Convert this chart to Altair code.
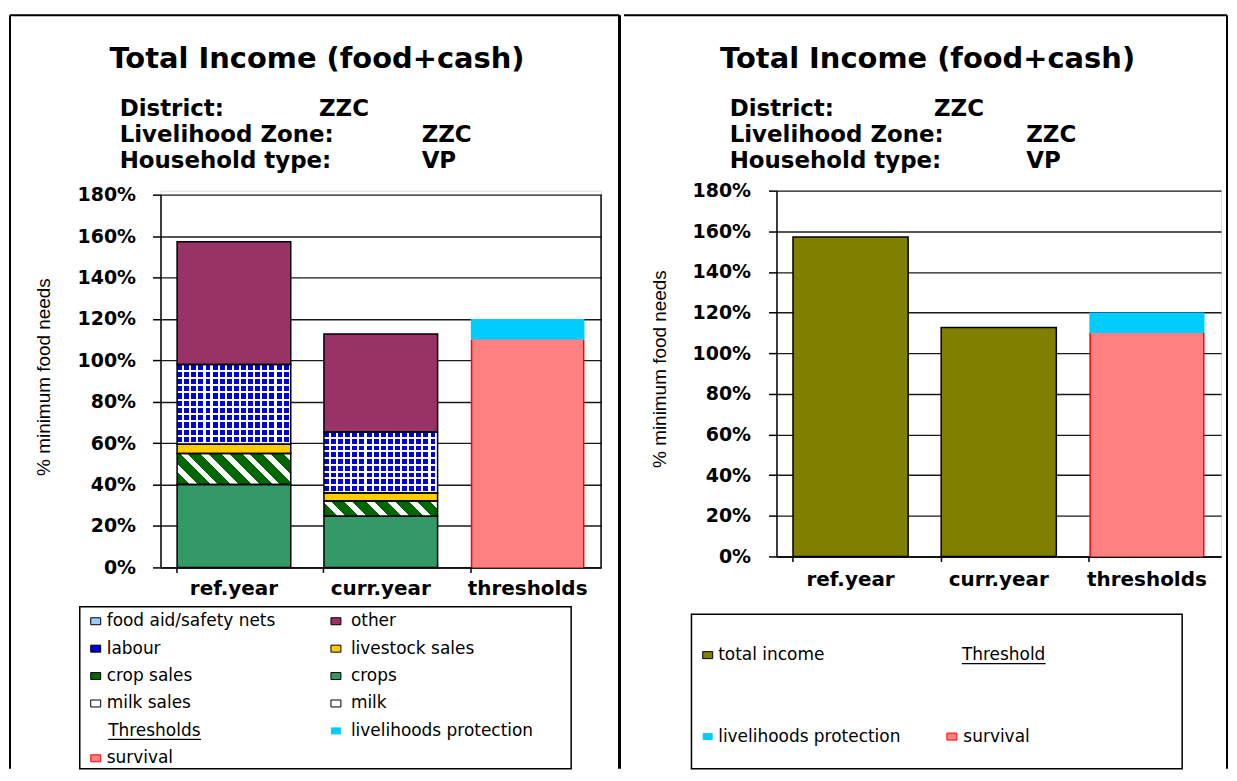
import altair as alt
import pandas as pd

# ---------------- data ----------------
categories = ["ref.year", "curr.year", "thresholds"]
income_sources = ["crops", "crop sales", "livestock sales", "labour", "other"]
ref_year_values = [40.0, 15.0, 4.5, 38.5, 59.2]
curr_year_values = [24.7, 7.4, 3.8, 29.5, 47.3]
threshold_names = ["survival", "livelihoods protection"]
threshold_values = [110.0, 10.0]
total_income_values = [157.2, 112.7]
y_tick_values = [0, 20, 40, 60, 80, 100, 120, 140, 160, 180]

legend_left_col1 = ["food aid/safety nets", "labour", "crop sales", "milk sales", "Thresholds", "survival"]
legend_left_col2 = ["other", "livestock sales", "crops", "milk", "livelihoods protection"]
legend_right = ["total income", "Threshold", "livelihoods protection", "survival"]

# ---------------- styles ----------------
FONT = "DejaVu Sans"
C_CROPS = "#339966"
C_CROPSALES = "#006600"
C_LIVESTOCK = "#FFCC00"
C_LABOUR = "#0000DD"
C_OTHER = "#993366"
C_FOODAID = "#99CCFF"
C_LP = "#00CCFF"
C_SURV = "#FF8080"
C_RED = "#FF0000"
C_OLIVE = "#808000"
CLEAR = "rgba(255,255,255,0)"
income_colors = [C_CROPS, C_CROPSALES, C_LIVESTOCK, C_LABOUR, C_OTHER]

# ---------------- tables ----------------
rows = []
for cat, vals in (("ref.year", ref_year_values), ("curr.year", curr_year_values)):
    for i, (s, v) in enumerate(zip(income_sources, vals)):
        rows.append({"category": cat, "source": s, "value": v, "order": i})
income_df = pd.DataFrame(rows)
thr_df = pd.DataFrame({"category": ["thresholds"] * 2, "source": threshold_names,
                       "value": threshold_values, "order": [0, 1]})
total_df = pd.DataFrame({"category": categories[:2], "value": total_income_values})
dummy = pd.DataFrame({"d": [0]})


def stripe_stops(n, base, line, frac):
    stops = []
    for k in range(n):
        a = k / n
        b = (k + 1 - frac) / n
        c = (k + 1) / n
        stops += [{"offset": round(a, 5), "color": base}, {"offset": round(b, 5), "color": base},
                  {"offset": round(b, 5), "color": line}, {"offset": round(c, 5), "color": line}]
    return stops


def lines_gradient(n, vertical):
    return {"gradient": "linear", "x1": 0, "y1": 0, "x2": 1 if vertical else 0,
            "y2": 0 if vertical else 1, "stops": stripe_stops(n, CLEAR, "white", 0.3)}


def diag_gradient(w, h, period):
    L = w + h
    n = max(1, round(L / period))
    k = L / (w * w + h * h)
    return {"gradient": "linear", "x1": 0, "y1": 1, "x2": round(w * k, 5), "y2": round(1 - h * k, 5),
            "stops": stripe_stops(n, C_CROPSALES, "white", 0.38)}


def x_enc(pad, label_pad):
    return alt.X("category:N",
                 scale=alt.Scale(domain=categories, paddingInner=pad, paddingOuter=pad / 2),
                 axis=alt.Axis(title=None, labelAngle=0, labelFont=FONT, labelFontWeight="bold",
                               labelFontSize=20, labelColor="black", labelPadding=label_pad,
                               tickSize=5, tickWidth=1.5, tickColor="black", bandPosition=0,
                               domainColor="black", domainWidth=1.5, grid=False))


def y_enc(field, label_pad, rng):
    return alt.Y(field, scale=alt.Scale(domain=[0, 180], nice=False, zero=True, range=rng),
                 axis=alt.Axis(title=None, values=y_tick_values, labelExpr="datum.value + '%'",
                               labelFont=FONT, labelFontWeight="bold", labelFontSize=19,
                               labelColor="black", labelPadding=label_pad, labelFlush=False,
                               labelOverlap=False, tickSize=8, tickWidth=1.5, tickColor="black",
                               domainColor="black", domainWidth=1.5, grid=True,
                               gridColor="#1a1a1a", gridWidth=1.4))


def txt(s, x, y, size, bold=False, align="left", baseline="alphabetic", font=FONT, angle=0):
    return alt.Chart(dummy).mark_text(text=s, font=font, fontSize=size,
                                      fontWeight="bold" if bold else "normal", align=align,
                                      baseline=baseline, color="black", angle=angle
                                      ).encode(x=alt.value(x), y=alt.value(y))


def rule(x, y, x2, y2, color="black", width=2.0, opacity=1.0):
    return alt.Chart(dummy).mark_rule(color=color, strokeWidth=width, opacity=opacity).encode(
        x=alt.value(x), y=alt.value(y), x2=alt.value(x2), y2=alt.value(y2))


def rect(x, y, x2, y2, fill, stroke=None, sw=1.0):
    kw = {"fill": fill}
    if stroke is not None:
        kw["stroke"] = stroke
        kw["strokeWidth"] = sw
    return alt.Chart(dummy).mark_rect(**kw).encode(
        x=alt.value(x), x2=alt.value(x2), y=alt.value(y), y2=alt.value(y2))


def stacked(df):
    return alt.Chart(df).transform_stack(
        as_=["y0", "y1"], stack="value", groupby=["category"],
        sort=[alt.SortField("order", order="ascending")])


def threshold_layers(xe, ye, bw):
    red = stacked(thr_df).transform_filter(alt.datum.source == "survival").mark_bar(
        fill=C_RED).encode(x=xe, y=ye, y2="y1:Q")
    inner = stacked(thr_df).transform_filter(alt.datum.source == "survival").mark_bar(
        fill=C_SURV, width=alt.RelativeBandSize((bw - 3.0) / bw)).encode(x=xe, y=ye, y2="y1:Q")
    lp = stacked(thr_df).transform_filter(alt.datum.source == "livelihoods protection").mark_bar(
        fill=C_LP).encode(x=xe, y=ye, y2="y1:Q")
    return [red, inner, lp]


def header(s_title, tx, ty, lx, ys, vals_x, vals):
    layers = [txt(s_title, tx, ty, 29, bold=True, align="center")]
    for lab, y in zip(["District:", "Livelihood Zone:", "Household type:"], ys):
        layers.append(txt(lab, lx, y, 23, bold=True))
    for v, vx, y in zip(vals, vals_x, ys):
        layers.append(txt(v, vx, y, 23, bold=True))
    return layers


def swatch(cx, cy, fill, stroke="black"):
    return rect(cx - 5, cy - 3.5, cx + 5, cy + 3.5, fill, stroke, 1.0)


# ---------------- left panel (view origin at page y 189; 180% sits 4px lower) ----------------
LW, LTOP, LBOT, LPAD = 442, 4, 378, 0.226
l_bw = LW / 3 * (1 - LPAD)
l_ppu = (LBOT - LTOP) / 180.0
xl = x_enc(LPAD, 6)
yl = y_enc("y0:Q", 17, [LBOT, LTOP])

left_layers = []
left_layers.append(stacked(income_df).mark_bar().encode(
    x=xl, y=yl, y2="y1:Q",
    color=alt.Color("source:N", scale=alt.Scale(domain=income_sources, range=income_colors), legend=None)))
left_layers.append(stacked(income_df).transform_filter(alt.datum.source == "labour").mark_bar(
    fill=lines_gradient(16, True)).encode(x=xl, y=yl, y2="y1:Q"))
for cat, vals in (("ref.year", ref_year_values), ("curr.year", curr_year_values)):
    h_lab = vals[3] * l_ppu
    left_layers.append(stacked(income_df).transform_filter(
        (alt.datum.source == "labour") & (alt.datum.category == cat)).mark_bar(
        fill=lines_gradient(max(1, round(h_lab / 7.0)), False)).encode(x=xl, y=yl, y2="y1:Q"))
    h_cs = vals[1] * l_ppu
    left_layers.append(stacked(income_df).transform_filter(
        (alt.datum.source == "crop sales") & (alt.datum.category == cat)).mark_bar(
        fill=diag_gradient(l_bw, h_cs, 22.0)).encode(x=xl, y=yl, y2="y1:Q"))
left_layers.append(stacked(income_df).mark_bar(fillOpacity=0, stroke="black", strokeWidth=1.5).encode(
    x=xl, y=yl, y2="y1:Q"))
left_layers += threshold_layers(xl, yl, l_bw)
left_layers.append(rule(LW, LTOP, LW, LBOT, width=1.5))
# panel frame
left_layers += [rule(-151, -176, 460.5, -176), rule(-151, -176, -151, 580),
                rule(460.5, -176, 460.5, 580, width=3)]
left_layers += header("Total Income (food+cash)", 157, -123, -41, [-75, -49, -23],
                      [159, 262, 262], ["ZZC", "ZZC", "VP"])
left_layers.append(txt("% minimum food needs", -117, 187, 19, align="center", baseline="middle",
                       font="Liberation Sans", angle=270))
# legend
left_layers.append(rect(-81, 417.5, 412, 580, "white", "black", 1.5))
rows_y = [432, 459.5, 487, 514.5, 542, 569.5]
col1_fill = [C_FOODAID, C_LABOUR, C_CROPSALES, "white", None, C_SURV]
col2_fill = [C_OTHER, C_LIVESTOCK, C_CROPS, "white", C_LP]
for lab, f, y in zip(legend_left_col1, col1_fill, rows_y):
    if f is None:
        left_layers.append(txt(lab, -52.5, y, 17, baseline="middle"))
        left_layers.append(rule(-52.5, y + 8.5, -52.5 + 93, y + 8.5, width=1.3))
    else:
        left_layers.append(swatch(-65, y, f, C_RED if lab == "survival" else "black"))
        left_layers.append(txt(lab, -54, y, 17, baseline="middle"))
for lab, f, y in zip(legend_left_col2, col2_fill, rows_y):
    if lab == "livelihoods protection":
        left_layers.append(rect(171, y - 3.5, 181, y + 3.5, f))
    else:
        left_layers.append(swatch(176, y, f))
    left_layers.append(txt(lab, 191, y, 17, baseline="middle"))

left = alt.layer(*left_layers).properties(width=LW, height=LBOT)

# ---------------- right panel (view origin at page 775,189) ----------------
RW, RH, RPAD = 446, 367, 0.223
r_bw = RW / 3 * (1 - RPAD)
xr = x_enc(RPAD, 8)
yr_val = y_enc("value:Q", 18, [RH, 0])
yr_st = y_enc("y0:Q", 18, [RH, 0])

right_layers = []
right_layers.append(alt.Chart(total_df).mark_bar(fill=C_OLIVE, stroke="black", strokeWidth=1.5).encode(
    x=xr, y=yr_val))
right_layers += threshold_layers(xr, yr_st, r_bw)
right_layers += [rule(-153, -176, 452, -176), rule(-153, -176, -153, 580, opacity=0),
                 rule(452, -176, 452, 580)]
right_layers += header("Total Income (food+cash)", 151.6, -123, -47, [-75, -49, -23],
                       [158, 250.5, 250.5], ["ZZC", "ZZC", "VP"])
right_layers.append(txt("% minimum food needs", -117, 179, 19, align="center", baseline="middle",
                        font="Liberation Sans", angle=270))
right_layers.append(rect(-85.3, 425, 407, 580, "white", "black", 1.5))
right_layers.append(swatch(-69, 466, C_OLIVE))
right_layers.append(txt(legend_right[0], -58.5, 466, 17, baseline="middle"))
right_layers.append(txt(legend_right[1], 186, 466, 17, baseline="middle"))
right_layers.append(rule(186, 474.5, 186 + 84, 474.5, width=1.3))
right_layers.append(rect(-74, 547.7 - 3.5, -64, 547.7 + 3.5, C_LP))
right_layers.append(txt(legend_right[2], -58.5, 547.7, 17, baseline="middle"))
right_layers.append(swatch(176, 547.7, C_SURV, C_RED))
right_layers.append(txt(legend_right[3], 187.5, 547.7, 17, baseline="middle"))

right = alt.layer(*right_layers).properties(width=RW, height=RH)

chart = alt.hconcat(left, right, spacing=0).properties(
    padding={"left": 0, "top": 4, "right": 0, "bottom": 0}
).configure_view(strokeOpacity=0).configure(background="white")

chart.save("out.html", embed_options={"renderer": "svg", "actions": False})
